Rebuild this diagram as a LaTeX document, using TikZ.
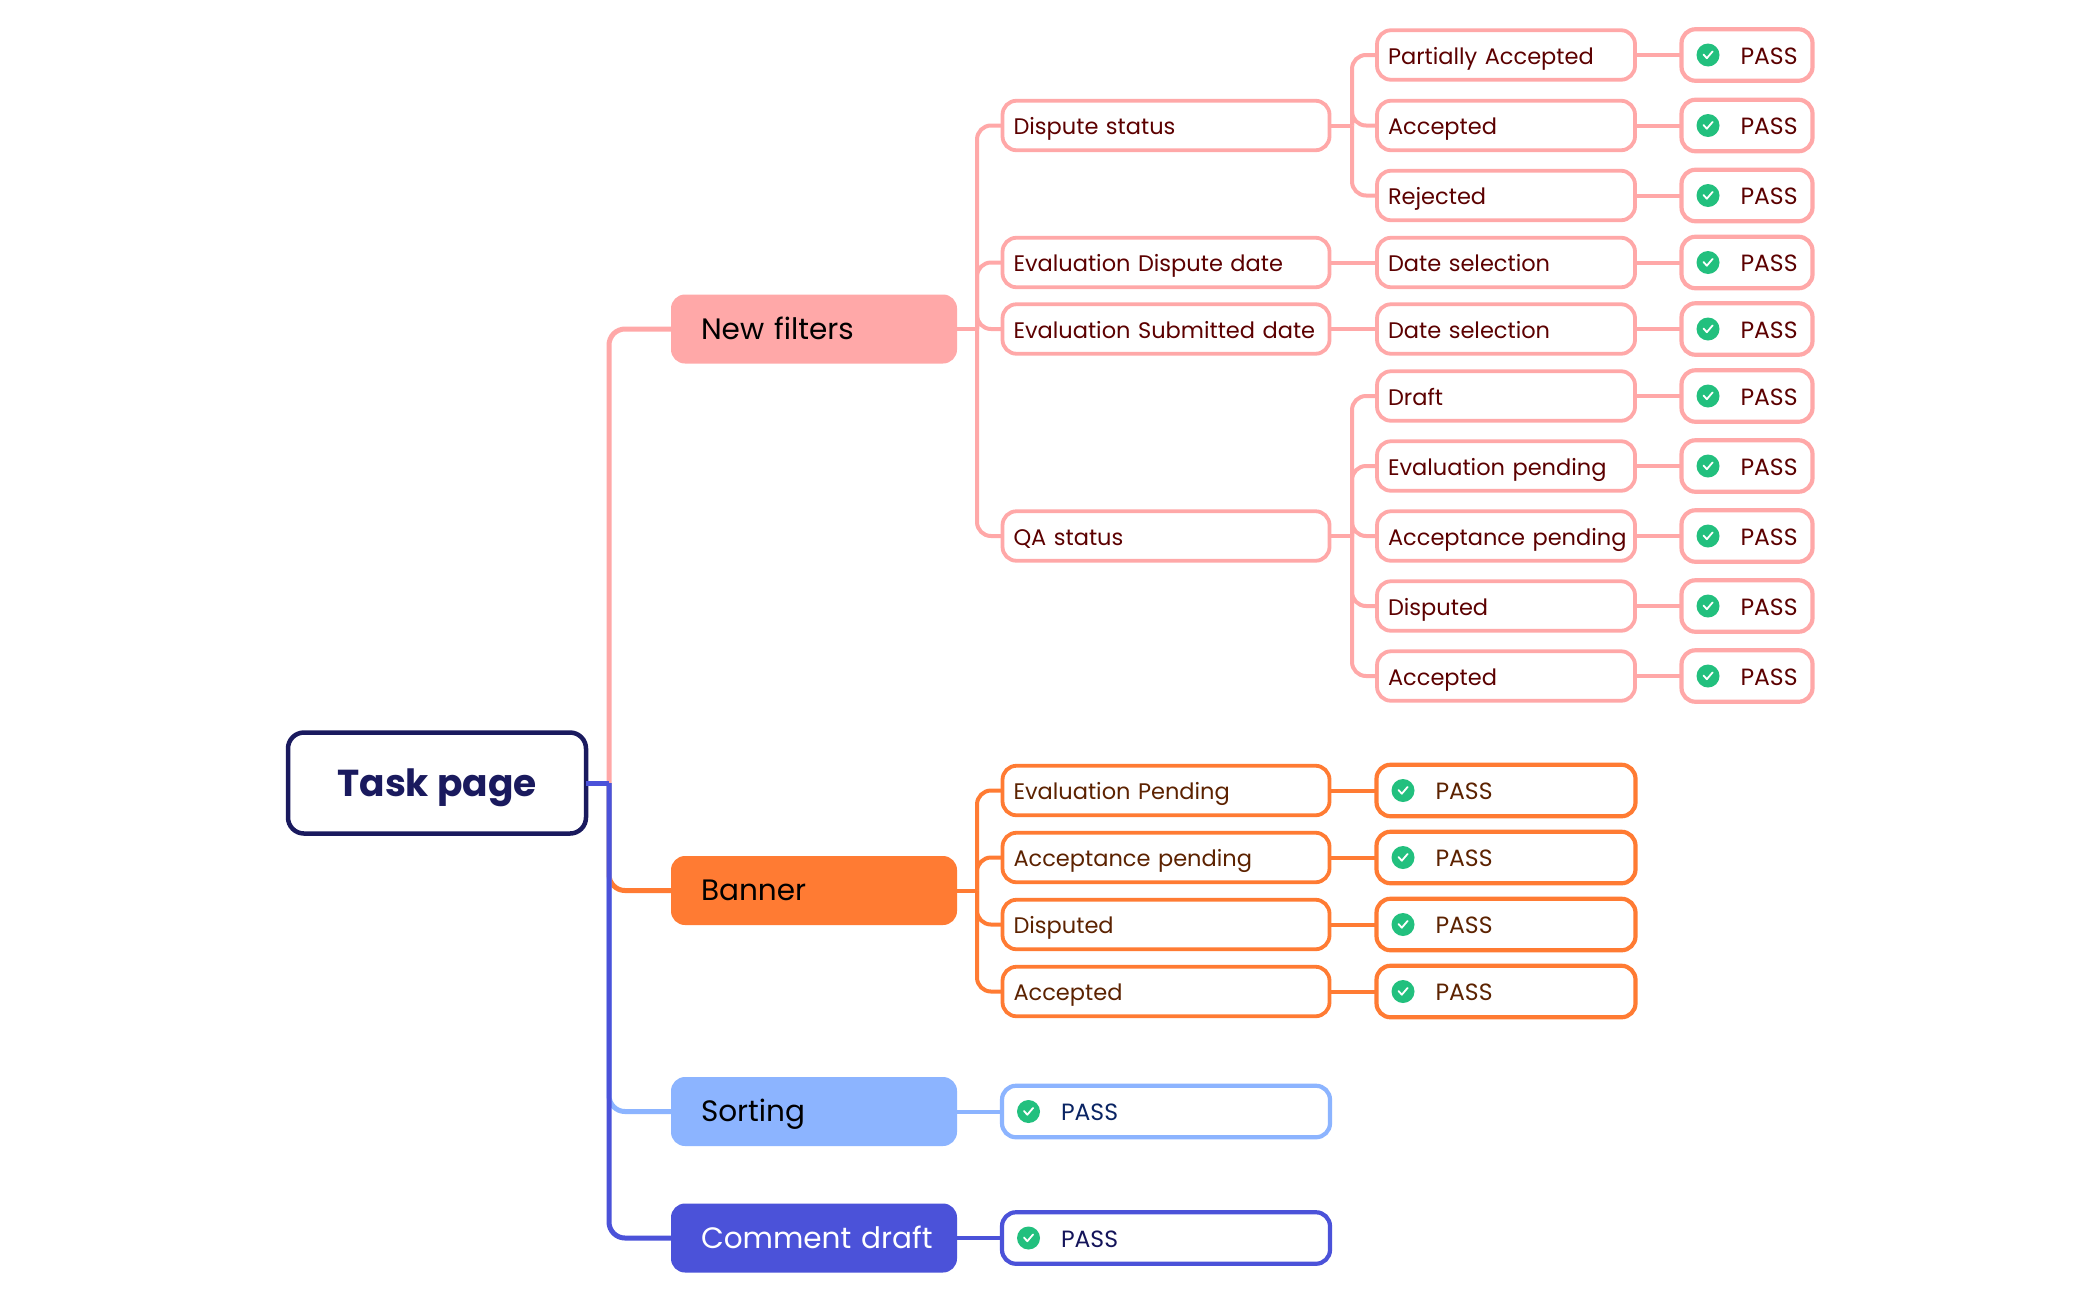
\documentclass[tikz,border=0pt]{standalone}
\usepackage{fontspec}
\setmainfont{Poppins}
\usetikzlibrary{calc}
\definecolor{pinkc}{HTML}{FFA8A8}
\definecolor{pinkt}{HTML}{5C0000}
\definecolor{orangec}{HTML}{FF7B33}
\definecolor{oranget}{HTML}{5C2200}
\definecolor{bluec}{HTML}{8CB4FF}
\definecolor{bluet}{HTML}{0A2463}
\definecolor{indigoc}{HTML}{4B52D9}
\definecolor{indigot}{HTML}{14145A}
\definecolor{navyc}{HTML}{1A1A5E}
\definecolor{greenc}{HTML}{22C07E}
\tikzset{
  rootbox/.style={draw=navyc,line width=4.5pt,rounded corners=16pt,fill=white,outer sep=0pt,
    minimum width=298pt,minimum height=101pt,text=navyc,text height=27pt,text depth=0pt,
    font=\fontsize{37.5}{44}\selectfont\bfseries},
  headbox/.style={fill=#1,rounded corners=14pt,outer sep=0pt,inner xsep=30pt,inner ysep=0pt,
    text width=226pt,minimum height=69pt,align=left,text height=20pt,text depth=0pt,
    font=\fontsize{29.5}{34}\selectfont},
  midbox/.style={draw=#1,line width=3.8pt,fill=white,rounded corners=14pt,outer sep=0pt,
    inner xsep=11pt,inner ysep=0pt,minimum height=49.5pt,align=left,text height=18pt,text depth=0pt,
    font=\fontsize{22.5}{27}\selectfont},
  lvltwo/.style={midbox=#1,text width=305pt},
  lvlthree/.style={midbox=#1,text width=236pt},
  passbox/.style={draw=#1,line width=4.2pt,fill=white,rounded corners=14pt,outer sep=0pt,
    inner xsep=13pt,inner ysep=0pt,minimum height=51.5pt,align=left,text height=18pt,text depth=0pt,
    font=\fontsize{23.5}{28}\selectfont},
  checkicon/.style={circle,fill=greenc,minimum size=23pt,inner sep=0pt,outer sep=0pt},
  checkline/.style={draw=white,line width=1.8pt,line cap=round,line join=round},
  link/.style={draw=#1,line width=4pt},
  bend/.style={draw=#1,line width=4pt,rounded corners=14pt},
  trunkline/.style={draw=#1,line width=5pt,rounded corners=16pt},
}
\newcommand{\passnode}[6]{% name, x, y, width, line colour, text colour
  \node[passbox=#5,text width=#4pt-24pt,text=#6] (#1) at (#2,#3) {\hspace*{46pt}PASS};
  \node[checkicon] (#1i) at ($(#1.west)+(26.5,0)$) {};
  \draw[checkline] ([shift={(-4.5pt,0.5pt)}]#1i.center) -- ([shift={(-1.2pt,-3.2pt)}]#1i.center) -- ([shift={(4.6pt,3.6pt)}]#1i.center);
}
\newcommand{\stemto}[3]{% colour, from node, bus coordinate
  \draw[link=#1] (#2.east) -- (#3);
}
\newcommand{\branchto}[3]{% colour, bus coordinate, to node
  \draw[bend=#1] (#2) |- (#3.west);
}
\begin{document}
\begin{tikzpicture}[x=1pt,y=-1pt]
\path[use as bounding box,fill=white] (0,0) rectangle (2100,1299);

% nodes
\node[rootbox] (root) at (437,783) {Task page};
\node[headbox=pinkc] (nf) at (814,329) {New filters};
\node[headbox=orangec] (ban) at (814,890.5) {Banner};
\node[headbox=bluec] (sor) at (814,1111.5) {Sorting};
\node[headbox=indigoc,text=white] (com) at (814,1238) {\mbox{Comment draft}};

\coordinate (tr) at (609,783);
\coordinate (bnf) at (977,329);
\coordinate (bban) at (977,890.5);
\coordinate (bds) at (1352,125.5);
\coordinate (bqa) at (1352,536);

% mid boxes
\node[lvltwo=pinkc,text=pinkt] (ds) at (1166,125.5) {Dispute status};
\node[lvltwo=pinkc,text=pinkt] (ed) at (1166,262.5) {Evaluation Dispute date};
\node[lvltwo=pinkc,text=pinkt] (es) at (1166,329) {\mbox{Evaluation Submitted date}};
\node[lvltwo=pinkc,text=pinkt] (qa) at (1166,536) {QA status};

\node[lvlthree=pinkc,text=pinkt] (a1) at (1506,55) {Partially Accepted};
\node[lvlthree=pinkc,text=pinkt] (a2) at (1506,125.5) {Accepted};
\node[lvlthree=pinkc,text=pinkt] (a3) at (1506,195.5) {Rejected};
\node[lvlthree=pinkc,text=pinkt] (a4) at (1506,262.5) {Date selection};
\node[lvlthree=pinkc,text=pinkt] (a5) at (1506,329) {Date selection};
\node[lvlthree=pinkc,text=pinkt] (a6) at (1506,396) {Draft};
\node[lvlthree=pinkc,text=pinkt] (a7) at (1506,466) {Evaluation pending};
\node[lvlthree=pinkc,text=pinkt] (a8) at (1506,536) {\mbox{Acceptance pending}};
\node[lvlthree=pinkc,text=pinkt] (a9) at (1506,606) {Disputed};
\node[lvlthree=pinkc,text=pinkt] (a10) at (1506,676) {Accepted};

\node[lvltwo=orangec,text=oranget] (b1) at (1166,790.5) {Evaluation Pending};
\node[lvltwo=orangec,text=oranget] (b2) at (1166,857.5) {Acceptance pending};
\node[lvltwo=orangec,text=oranget] (b3) at (1166,924.5) {Disputed};
\node[lvltwo=orangec,text=oranget] (b4) at (1166,991.5) {Accepted};

% pass boxes
\passnode{p1}{1747}{55}{129}{pinkc}{pinkt}
\passnode{p2}{1747}{125.5}{129}{pinkc}{pinkt}
\passnode{p3}{1747}{195.5}{129}{pinkc}{pinkt}
\passnode{p4}{1747}{262.5}{129}{pinkc}{pinkt}
\passnode{p5}{1747}{329}{129}{pinkc}{pinkt}
\passnode{p6}{1747}{396}{129}{pinkc}{pinkt}
\passnode{p7}{1747}{466}{129}{pinkc}{pinkt}
\passnode{p8}{1747}{536}{129}{pinkc}{pinkt}
\passnode{p9}{1747}{606}{129}{pinkc}{pinkt}
\passnode{p10}{1747}{676}{129}{pinkc}{pinkt}
\passnode{q1}{1506}{790.5}{257}{orangec}{oranget}
\passnode{q2}{1506}{857.5}{257}{orangec}{oranget}
\passnode{q3}{1506}{924.5}{257}{orangec}{oranget}
\passnode{q4}{1506}{991.5}{257}{orangec}{oranget}
\passnode{s1}{1166}{1111.5}{326}{bluec}{bluet}
\passnode{c1}{1166}{1238}{326}{indigoc}{indigot}

% connectors
\draw[trunkline=pinkc] (tr) |- (nf.west);
\draw[trunkline=orangec] (tr) |- (ban.west);
\draw[trunkline=bluec] (tr) |- (sor.west);
\draw[trunkline=indigoc] (tr) |- (com.west);
\draw[link=indigoc,line width=5pt] (root.east) -- (tr);

\stemto{pinkc}{nf}{bnf}
\branchto{pinkc}{bnf}{ds}
\branchto{pinkc}{bnf}{ed}
\branchto{pinkc}{bnf}{es}
\branchto{pinkc}{bnf}{qa}

\stemto{pinkc}{ds}{bds}
\branchto{pinkc}{bds}{a1}
\branchto{pinkc}{bds}{a2}
\branchto{pinkc}{bds}{a3}
\draw[link=pinkc] (ed.east) -- (a4.west);
\draw[link=pinkc] (es.east) -- (a5.west);
\stemto{pinkc}{qa}{bqa}
\branchto{pinkc}{bqa}{a6}
\branchto{pinkc}{bqa}{a7}
\branchto{pinkc}{bqa}{a8}
\branchto{pinkc}{bqa}{a9}
\branchto{pinkc}{bqa}{a10}

\draw[link=pinkc] (a1.east) -- (p1.west);
\draw[link=pinkc] (a2.east) -- (p2.west);
\draw[link=pinkc] (a3.east) -- (p3.west);
\draw[link=pinkc] (a4.east) -- (p4.west);
\draw[link=pinkc] (a5.east) -- (p5.west);
\draw[link=pinkc] (a6.east) -- (p6.west);
\draw[link=pinkc] (a7.east) -- (p7.west);
\draw[link=pinkc] (a8.east) -- (p8.west);
\draw[link=pinkc] (a9.east) -- (p9.west);
\draw[link=pinkc] (a10.east) -- (p10.west);

\stemto{orangec}{ban}{bban}
\branchto{orangec}{bban}{b1}
\branchto{orangec}{bban}{b2}
\branchto{orangec}{bban}{b3}
\branchto{orangec}{bban}{b4}
\draw[link=orangec] (b1.east) -- (q1.west);
\draw[link=orangec] (b2.east) -- (q2.west);
\draw[link=orangec] (b3.east) -- (q3.west);
\draw[link=orangec] (b4.east) -- (q4.west);

\draw[link=bluec] (sor.east) -- (s1.west);
\draw[link=indigoc] (com.east) -- (c1.west);
\end{tikzpicture}
\end{document}
